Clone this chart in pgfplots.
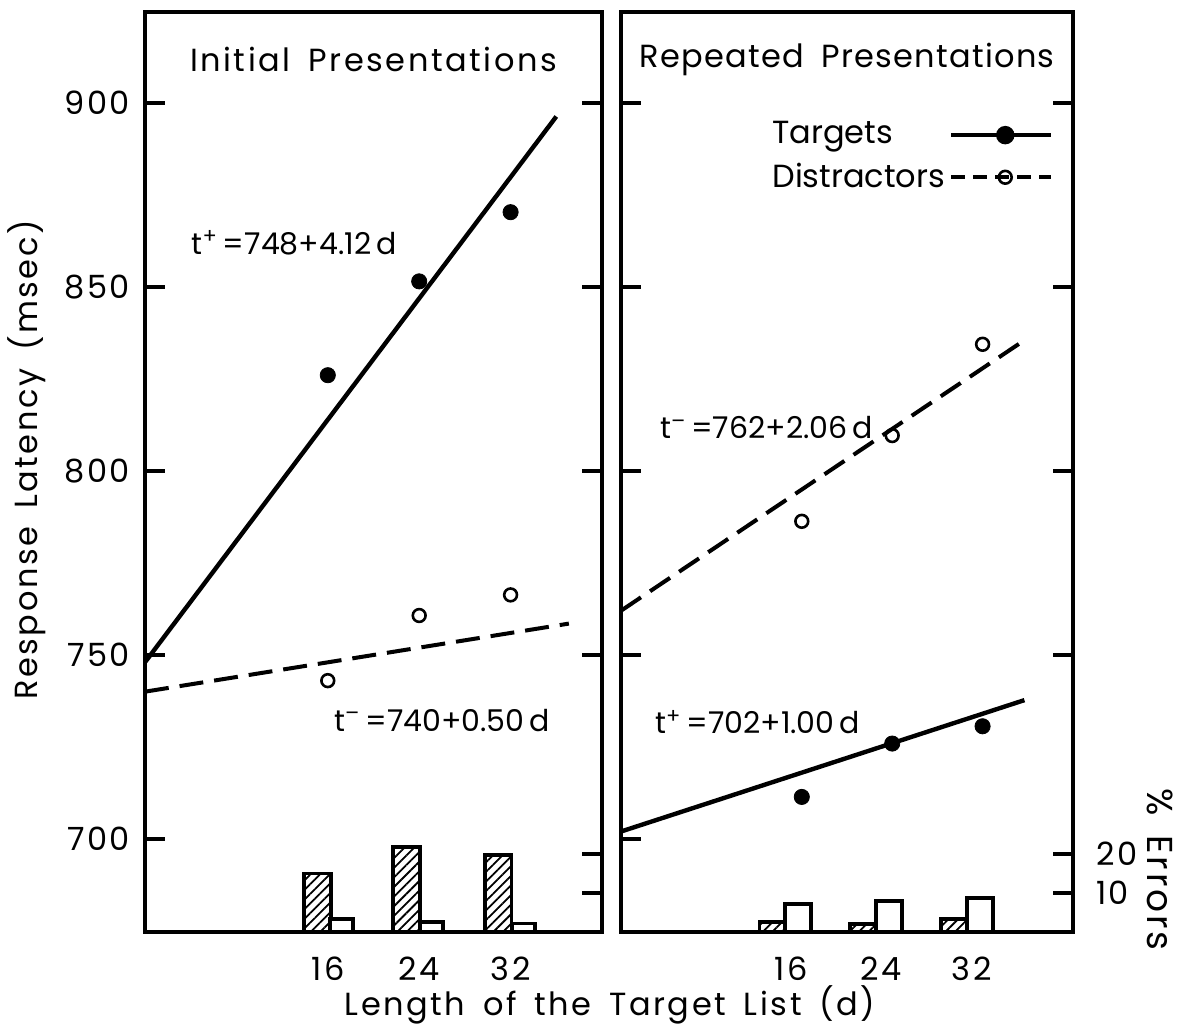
\documentclass[border=0pt]{standalone}
\usepackage{fontspec}
\setmainfont{Poppins}[LetterSpace=8, WordSpace=1.6]
\newfontfamily\eqfont{Poppins}
\newfontfamily\midfont{Poppins}[LetterSpace=4, WordSpace=1.8]
\usepackage{pgfplots}
\pgfplotsset{compat=1.18}
\usetikzlibrary{patterns.meta}

\tikzset{eqlabel/.style={anchor=west, font=\eqfont\fontsize{15}{18}\selectfont}}

% latency axis: 674.7..924.7 ms over 460pt; error axis: 0..236 % over the same height
\pgfplotsset{
  base/.style={scale only axis, height=460pt, xmin=0, xmax=40,
    tick align=inside, major tick length=10pt,
    every tick/.append style={line width=1.8pt, black},
    /pgf/number format/assume math mode=true},
  panel/.style={base, ymin=674.7, ymax=924.7,
    axis line style={line width=1.8pt},
    xtick={16,24,32}, xtick style={draw=none},
    ytick={700,750,...,900}, ytick pos=left,
    xticklabel style={yshift=-7pt},
    yticklabel style={xshift=-2pt}},
  rticks/.style={base, ymin=674.7, ymax=924.7,
    axis line style={draw=none}, xtick=\empty,
    ytick={750,800,850,900}, ytick pos=right, yticklabel=\empty},
  errax/.style={base, ymin=0, ymax=236,
    axis line style={draw=none}, xtick=\empty,
    ytick={10,20}, ytick pos=right, yticklabel pos=right},
  fitline/.style={line width=2.2pt},
  fitdash/.style={line width=2pt, dash pattern=on 12pt off 5.5pt},
  tpts/.style={only marks, mark=*, mark size=3.8pt},
  dpts/.style={only marks, mark=o, mark size=3.2pt, line width=1.3pt},
  hbar/.style={ybar, bar shift=0, draw=black, line width=1.9pt,
    pattern={Lines[angle=45, distance=3.4pt, line width=0.9pt]}},
  obar/.style={ybar, bar shift=0, draw=black, line width=1.9pt, fill=white},
}

\begin{document}
\fontsize{16}{19}\selectfont
\begin{tikzpicture}
\useasboundingbox (-72.5pt,-49.5pt) rectangle (523pt,466pt);

% ---- Initial presentations
\begin{axis}[panel, width=228.5pt, at={(0pt,0pt)}, anchor=south west]
\addplot[fitline] coordinates {(0,748) (36,896.3)};
\addplot[fitdash] coordinates {(0,740) (37.1,758.5)};
\addplot[tpts] coordinates {(16,826) (24,851.5) (32,870.3)};
\addplot[dpts] coordinates {(16,743) (24,760.7) (32,766.3)};
\node at (rel axis cs:0.5,0.948) {Initial Presentations};
\node[eqlabel] at (rel axis cs:0.078,0.749) {t\textsuperscript{+}\,=748+4.12\,d};
\node[eqlabel] at (rel axis cs:0.39,0.230) {t\textsuperscript{–}\,=740+0.50\,d};
\end{axis}
\begin{axis}[rticks, width=228.5pt, at={(0pt,0pt)}, anchor=south west]
\end{axis}
\begin{axis}[errax, width=228.5pt, at={(0pt,0pt)}, anchor=south west, yticklabel=\empty]
\addplot[hbar, bar width=2.35] coordinates {(15.1,15.0) (22.9,21.7) (30.9,19.7)};
\addplot[obar, bar width=2.0] coordinates {(17.2,3.3) (25.1,2.5) (33.15,2.2)};
\end{axis}

% ---- Repeated presentations
\begin{axis}[panel, width=226pt, at={(238pt,0pt)}, anchor=south west,
  yticklabel=\empty,
  xticklabel style={xshift=-5.5pt},
  legend style={draw=none, fill=none, at={(0.971,0.890)}, anchor=north east,
    row sep=3pt, font=\eqfont},
  legend cell align=left, legend plot pos=right,
  legend image code/.code={\draw[mark repeat=2, mark phase=2, #1]
    plot coordinates {(0pt,0pt) (27pt,0pt) (50pt,0pt)};}]
\addlegendimage{line width=2.2pt, mark=*, mark size=3.5pt}
\addlegendentry{Targets}
\addlegendimage{line width=2pt, dash pattern=on 7pt off 4pt, mark=o, mark size=3.2pt,
  mark options={solid, line width=1.3pt, fill=white}}
\addlegendentry{Distractors}
\addplot[fitdash] coordinates {(0,762) (35.7,835.5)};
\addplot[fitline] coordinates {(0,702) (35.7,737.7)};
\addplot[tpts] coordinates {(16,711.4) (24,725.9) (32,730.6)};
\addplot[dpts] coordinates {(16,786.3) (24,809.6) (32,834.4)};
\node[font=\midfont] at (rel axis cs:0.5,0.948) {Repeated Presentations};
\node[eqlabel] at (rel axis cs:0.062,0.548) {t\textsuperscript{–}\,=762+2.06\,d};
\node[eqlabel] at (rel axis cs:0.051,0.228) {t\textsuperscript{+}\,=702+1.00\,d};
\end{axis}
\begin{axis}[rticks, width=226pt, at={(238pt,0pt)}, anchor=south west]
\end{axis}
\begin{axis}[errax, width=226pt, at={(238pt,0pt)}, anchor=south west,
  yticklabel style={anchor=west, xshift=6pt}]
\addplot[hbar, bar width=2.3] coordinates {(13.4,2.6) (21.4,2.0) (29.5,3.3)};
\addplot[obar, bar width=2.3] coordinates {(15.65,7.2) (23.7,7.9) (31.8,8.8)};
\end{axis}

\node[rotate=90] at (-59pt,236pt) {Response Latency (msec)};
\node at (232.5pt,-36.5pt) {Length of the Target List (d)};
\node[rotate=-90, font=\fontsize{18}{21}\selectfont] at (507.5pt,31.3pt) {\% Errors};
\end{tikzpicture}
\end{document}
